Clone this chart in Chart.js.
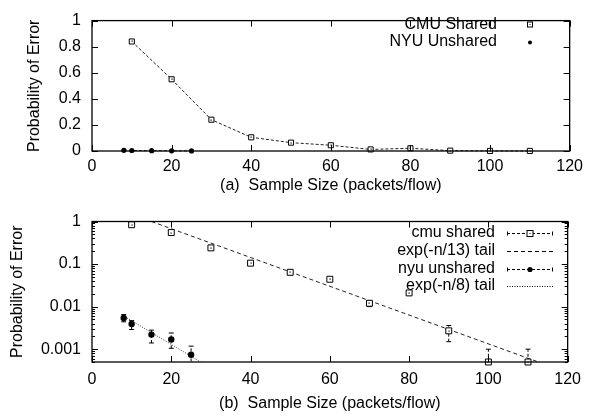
<!DOCTYPE html>
<html>
<head>
<meta charset="utf-8">
<script src="https://cdn.jsdelivr.net/npm/chart.js@4.4.0/dist/chart.umd.min.js"></script>
<style>
    body { margin: 0; background: #fff; }
    .panel { position: absolute; left: 0; width: 589px; }
    #panelA { top: 0; height: 200px; }
    #panelB { top: 200px; height: 220px; }
</style>
</head>
<body>
<div class="panel" id="panelA"><canvas id="chartA"></canvas></div>
<div class="panel" id="panelB"><canvas id="chartB"></canvas></div>
<script>
    // ---- data ----
    const cmuX = [10, 20, 30, 40, 50, 60, 70, 80, 90, 100, 110];
    const cmuY = [0.84, 0.55, 0.24, 0.105, 0.064, 0.044, 0.012, 0.021, 0.0027, 0.0005, 0.0005];
    const cmuLo = [0.82, 0.52, 0.22, 0.097, 0.059, 0.040, 0.010, 0.019, 0.0015, 0.0001, 0.0001];
    const cmuHi = [0.88, 0.58, 0.26, 0.114, 0.069, 0.048, 0.0135, 0.023, 0.0036, 0.001, 0.001];

    const nyuX = [8, 10, 15, 20, 25];
    const nyuY = [0.0054, 0.0039, 0.0022, 0.0017, 0.00074];
    const nyuLo = [0.0044, 0.0029, 0.0014, 0.00105, 0.0003];
    const nyuHi = [0.0065, 0.0047, 0.0028, 0.0024, 0.00118];

    // fitted tails, endpoints where they meet the frame
    const fit13X = [15, 112.6];
    const fit13Y = [1, 0.0005];
    const fit8X = [8.3, 27.4];
    const fit8Y = [0.0058, 0.0005];

    const xTicks = [0, 20, 40, 60, 80, 100, 120];
    const yTicksA = [0, 0.2, 0.4, 0.6, 0.8, 1];
    const yTicksB = [0.001, 0.01, 0.1, 1];

    const pts = (xs, ys) => xs.map((x, i) => ({ x: x, y: ys[i] }));

    const FONT = { family: '"Liberation Sans", Arial, sans-serif', size: 16 };
    const INK = '#000';

    // inward ticks on all four sides + frame
    const frame = {
        id: 'frame',
        afterDatasetsDraw(chart, args, opts) {
            const { ctx, chartArea: a } = chart;
            const xs = chart.scales.x, ys = chart.scales.y;
            ctx.save();
            ctx.strokeStyle = INK;
            ctx.lineWidth = 1;
            ctx.beginPath();
            const major = 6, minor = 3;
            opts.xTicks.forEach(v => {
                const p = Math.round(xs.getPixelForValue(v)) + 0.5;
                ctx.moveTo(p, a.bottom); ctx.lineTo(p, a.bottom - major);
                ctx.moveTo(p, a.top); ctx.lineTo(p, a.top + major);
            });
            opts.yTicks.forEach(v => {
                const p = Math.round(ys.getPixelForValue(v)) + 0.5;
                ctx.moveTo(a.left, p); ctx.lineTo(a.left + major, p);
                ctx.moveTo(a.right, p); ctx.lineTo(a.right - major, p);
            });
            if (opts.logMinor) {
                for (let d = 1e-4; d < 1; d *= 10) {
                    for (let m = 2; m <= 9; m++) {
                        const v = d * m;
                        if (v < ys.min || v > ys.max) continue;
                        const p = Math.round(ys.getPixelForValue(v)) + 0.5;
                        ctx.moveTo(a.left, p); ctx.lineTo(a.left + minor, p);
                        ctx.moveTo(a.right, p); ctx.lineTo(a.right - minor, p);
                    }
                }
            }
            ctx.stroke();
            ctx.lineWidth = 1.3;
            ctx.strokeRect(a.left, a.top, a.width, a.height);

            // gnuplot's dotted-box marker: a dot in the middle of each square
            ctx.fillStyle = INK;
            chart.data.datasets.forEach((ds, i) => {
                if (ds.pointStyle !== 'rect') return;
                chart.getDatasetMeta(i).data.forEach(el => {
                    ctx.fillRect(Math.round(el.x) - 0.5, Math.round(el.y) - 0.5, 1.2, 1.2);
                });
            });
            ctx.restore();
        }
    };

    // vertical error bars from errLo / errHi on a dataset
    const errorBars = {
        id: 'errorBars',
        beforeDatasetsDraw(chart) {
            const { ctx, chartArea: a } = chart;
            const ys = chart.scales.y;
            ctx.save();
            ctx.beginPath();
            ctx.rect(a.left - 5, a.top, a.width + 10, a.height);
            ctx.clip();
            ctx.strokeStyle = INK;
            ctx.lineWidth = 1;
            chart.data.datasets.forEach((ds, i) => {
                if (!ds.errLo) return;
                const meta = chart.getDatasetMeta(i);
                meta.data.forEach((el, j) => {
                    const y0 = ys.getPixelForValue(ds.errLo[j]);
                    const y1 = ys.getPixelForValue(ds.errHi[j]);
                    ctx.setLineDash([3, 2]);
                    ctx.beginPath();
                    ctx.moveTo(el.x, y0); ctx.lineTo(el.x, y1);
                    ctx.stroke();
                    ctx.setLineDash([]);
                    ctx.beginPath();
                    ctx.moveTo(el.x - 2.5, y0); ctx.lineTo(el.x + 2.5, y0);
                    ctx.moveTo(el.x - 2.5, y1); ctx.lineTo(el.x + 2.5, y1);
                    ctx.stroke();
                });
            });
            ctx.restore();
        }
    };

    // gnuplot-style key: text right-aligned, sample to the right
    const keyBox = {
        id: 'keyBox',
        afterDraw(chart, args, opts) {
            const { ctx } = chart;
            ctx.save();
            ctx.font = `${FONT.size}px ${FONT.family}`;
            ctx.fillStyle = INK;
            ctx.strokeStyle = INK;
            ctx.textAlign = 'right';
            ctx.textBaseline = 'middle';
            opts.rows.forEach(r => {
                const ds = chart.data.datasets[r.ds];
                ctx.fillText(ds.label, opts.textX, r.y);
                const x0 = opts.x0, x1 = opts.x1, xm = (x0 + x1) / 2, y = Math.round(r.y) + 0.5;
                ctx.lineWidth = 1;
                if (r.line) {
                    ctx.setLineDash(r.line);
                    ctx.beginPath();
                    ctx.moveTo(x0, y); ctx.lineTo(x1, y);
                    ctx.stroke();
                    ctx.setLineDash([]);
                }
                if (r.caps) {
                    ctx.beginPath();
                    ctx.moveTo(x0 + 0.5, y - 2); ctx.lineTo(x0 + 0.5, y + 2);
                    ctx.moveTo(x1 - 0.5, y - 2); ctx.lineTo(x1 - 0.5, y + 2);
                    ctx.stroke();
                }
                if (r.point === 'rect') {
                    ctx.fillStyle = '#fff';
                    ctx.fillRect(xm - r.size, y - r.size, 2 * r.size, 2 * r.size);
                    ctx.fillStyle = INK;
                    ctx.strokeRect(xm - r.size, y - r.size, 2 * r.size, 2 * r.size);
                    ctx.fillRect(xm - 0.5, y - 0.5, 1, 1);
                } else if (r.point === 'circle') {
                    ctx.beginPath();
                    ctx.arc(xm, y, r.size, 0, Math.PI * 2);
                    ctx.fill();
                }
            });
            ctx.restore();
        }
    };

    function axisX(title, labelPad, height, titlePad) {
        return {
            type: 'linear', min: 0, max: 120,
            afterBuildTicks: s => { s.ticks = xTicks.map(v => ({ value: v })); },
            afterFit: s => { s.height = height; },
            ticks: { font: FONT, color: INK, padding: labelPad, maxRotation: 0, autoSkip: false, callback: v => String(v) },
            grid: { display: false, drawTicks: false },
            border: { display: false },
            title: { display: true, text: title, font: FONT, color: INK, padding: { top: 0, bottom: titlePad } }
        };
    }

    // ---- (a) linear panel ----
    new Chart(document.getElementById('chartA'), {
        type: 'scatter',
        data: {
            datasets: [
                {
                    label: 'CMU Shared', data: pts(cmuX, cmuY), showLine: true,
                    borderColor: '#222', borderWidth: 1, borderDash: [3, 2],
                    pointStyle: 'rect', pointRadius: 3.6, pointBackgroundColor: '#fff', pointBorderColor: INK, pointBorderWidth: 1,
                    clip: false
                },
                {
                    label: 'NYU Unshared', data: pts(nyuX, nyuY), showLine: true,
                    borderColor: '#222', borderWidth: 1, borderDash: [3, 2],
                    pointStyle: 'circle', pointRadius: 2.6, pointBackgroundColor: INK, pointBorderColor: INK, pointBorderWidth: 0,
                    clip: false
                }
            ]
        },
        options: {
            responsive: true,
            maintainAspectRatio: false,
            animation: false,
            layout: { padding: { top: 11, right: 16, left: 0, bottom: 0 } },
            scales: {
                x: axisX('(a)  Sample Size (packets/flow)', 6, 49, 4.5),
                y: {
                    type: 'linear', min: 0, max: 1,
                    afterBuildTicks: s => { s.ticks = yTicksA.map(v => ({ value: v })); },
                    afterFit: s => { s.width = 92; },
                    ticks: { font: FONT, color: INK, padding: 11, callback: v => String(v) },
                    grid: { display: false, drawTicks: false },
                    border: { display: false },
                    title: { display: true, text: 'Probability of Error', font: FONT, color: INK, padding: { top: 24.5, bottom: 0 } }
                }
            },
            plugins: {
                legend: { display: false },
                tooltip: { enabled: false },
                frame: { xTicks: xTicks, yTicks: yTicksA, logMinor: false },
                keyBox: {
                    textX: 497, x0: 507, x1: 553,
                    rows: [
                        { ds: 0, y: 24.3, point: 'rect', size: 2.5 },
                        { ds: 1, y: 41.7, point: 'circle', size: 2 }
                    ]
                }
            }
        },
        plugins: [frame, keyBox]
    });

    // ---- (b) log panel ----
    new Chart(document.getElementById('chartB'), {
        type: 'scatter',
        data: {
            datasets: [
                {
                    label: 'cmu shared', data: pts(cmuX, cmuY), showLine: false,
                    errLo: cmuLo, errHi: cmuHi,
                    pointStyle: 'rect', pointRadius: 4.2, pointBackgroundColor: '#fff', pointBorderColor: INK, pointBorderWidth: 1,
                    clip: false
                },
                {
                    label: 'exp(-n/13) tail', data: pts(fit13X, fit13Y), showLine: true,
                    borderColor: '#222', borderWidth: 1, borderDash: [4, 3], pointRadius: 0, clip: 0
                },
                {
                    label: 'nyu unshared', data: pts(nyuX, nyuY), showLine: false,
                    errLo: nyuLo, errHi: nyuHi,
                    pointStyle: 'circle', pointRadius: 3.2, pointBackgroundColor: INK, pointBorderColor: INK, pointBorderWidth: 0,
                    clip: false
                },
                {
                    label: 'exp(-n/8) tail', data: pts(fit8X, fit8Y), showLine: true,
                    borderColor: '#333', borderWidth: 1, borderDash: [1, 1.5], pointRadius: 0, clip: 0
                }
            ]
        },
        options: {
            responsive: true,
            maintainAspectRatio: false,
            animation: false,
            layout: { padding: { top: 21.5, right: 16, left: 0, bottom: 0 } },
            scales: {
                x: axisX('(b)  Sample Size (packets/flow)', 8, 58, 7),
                y: {
                    type: 'logarithmic', min: 0.0005, max: 1,
                    afterBuildTicks: s => { s.ticks = yTicksB.map(v => ({ value: v })); },
                    afterFit: s => { s.width = 92; },
                    ticks: { font: FONT, color: INK, padding: 11, callback: v => String(v) },
                    grid: { display: false, drawTicks: false },
                    border: { display: false },
                    title: { display: true, text: 'Probability of Error', font: FONT, color: INK, padding: { top: 8, bottom: 0 } }
                }
            },
            plugins: {
                legend: { display: false },
                tooltip: { enabled: false },
                frame: { xTicks: xTicks, yTicks: yTicksB, logMinor: true },
                keyBox: {
                    textX: 495, x0: 507, x1: 553,
                    rows: [
                        { ds: 0, y: 32.7, line: [3, 2], caps: true, point: 'rect', size: 3 },
                        { ds: 1, y: 51, line: [4, 3] },
                        { ds: 2, y: 68.7, line: [3, 2], caps: true, point: 'circle', size: 2.6 },
                        { ds: 3, y: 85.7, line: [1, 1.5] }
                    ]
                }
            }
        },
        plugins: [frame, errorBars, keyBox]
    });
</script>
</body>
</html>
